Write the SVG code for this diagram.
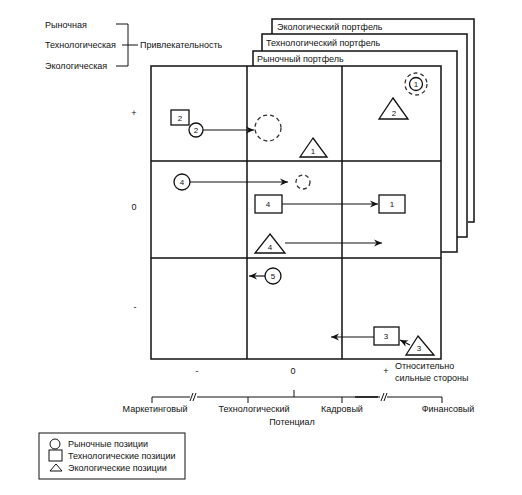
<svg xmlns="http://www.w3.org/2000/svg" width="522" height="495" viewBox="0 0 522 495">
<style>
text{font-family:"Liberation Sans",Arial,sans-serif;font-size:9px;fill:#111}
.c{text-anchor:middle}
.n{font-size:8px}
.ln{stroke:#111;stroke-width:1.5;fill:none}
.th{stroke:#111;stroke-width:1;fill:none}
.sh{stroke:#111;stroke-width:1.3;fill:#fff}
.ds{stroke:#333;stroke-width:1.3;fill:none;stroke-dasharray:4 3}
.ar{stroke:#111;stroke-width:1.2;fill:none}
</style>
<defs>
<marker id="ah" markerWidth="9" markerHeight="8" refX="8" refY="4" orient="auto" markerUnits="userSpaceOnUse">
<path d="M0,0.5 L8,4 L0,7.5 L2.5,4 z" fill="#111"/>
</marker>
</defs>
<rect width="522" height="495" fill="#fff"/>

<g id="attractiveness">
<text x="45" y="28">Рыночная</text>
<text x="45" y="48">Технологическая</text>
<text x="45" y="69">Экологическая</text>
<path class="th" d="M116,24 H128 V66 H116 M122,45 H138"/>
<text x="140" y="48">Привлекательность</text>
</g>

<g id="portfolio-eco">
<path class="ln" d="M272,34 V19 H474 V222 H468"/>
<text x="277" y="30">Экологический портфель</text>
</g>
<g id="portfolio-tech">
<path class="ln" d="M262,51 V34 H467 V237 H457"/>
<text x="266" y="46">Технологический портфель</text>
</g>
<g id="portfolio-market">
<path class="ln" d="M253,66 V51 H457 V252 H441"/>
<text x="257" y="62">Рыночный портфель</text>
</g>

<g id="grid">
<rect x="151" y="66" width="290" height="293" class="ln" fill="none"/>
<path class="ln" d="M247,66 V359 M342,66 V359 M151,161 H441 M151,258 H441"/>
</g>

<g id="y-axis">
<text class="c" x="134" y="116">+</text>
<text class="c" x="134" y="210">0</text>
<text class="c" x="135" y="310">-</text>
</g>

<g id="connectors">
<line class="ar" x1="203" y1="130" x2="254" y2="130" marker-end="url(#ah)"/>
<line class="ar" x1="190" y1="182" x2="288" y2="182" marker-end="url(#ah)"/>
<line class="ar" x1="282" y1="204" x2="378" y2="204" marker-end="url(#ah)"/>
<line class="ar" x1="285" y1="243" x2="382" y2="243" marker-end="url(#ah)"/>
<line class="ar" x1="265" y1="276" x2="249" y2="276" marker-end="url(#ah)"/>
<line class="ar" x1="374" y1="337" x2="331" y2="337" marker-end="url(#ah)"/>
<line class="ar" x1="410" y1="345" x2="400" y2="340" marker-end="url(#ah)"/>
</g>

<g id="tech-2">
<rect class="sh" x="171" y="110" width="18" height="15"/>
<text class="c n" x="180" y="121">2</text>
</g>
<g id="market-2">
<circle class="sh" cx="196" cy="130" r="7"/>
<text class="c n" x="196" y="133">2</text>
</g>
<g id="market-2-target">
<circle class="ds" cx="268" cy="128" r="13"/>
</g>
<g id="eco-1">
<path class="sh" d="M313,138 L327,157 H300 Z"/>
<text class="c n" x="313" y="154">1</text>
</g>
<g id="market-1">
<circle class="ds" cx="416" cy="84" r="11"/>
<circle class="sh" cx="416" cy="84" r="6.5"/>
<text class="c n" x="416" y="87">1</text>
</g>
<g id="eco-2">
<path class="sh" d="M393,98 L408,119 H379 Z"/>
<text class="c n" x="394" y="116">2</text>
</g>

<g id="market-4">
<circle class="sh" cx="182" cy="182" r="8"/>
<text class="c n" x="182" y="185">4</text>
</g>
<g id="market-4-target">
<circle class="ds" cx="303" cy="182" r="7"/>
</g>
<g id="tech-4">
<rect class="sh" x="255" y="195" width="27" height="18"/>
<text class="c n" x="268" y="207">4</text>
</g>
<g id="tech-1">
<rect class="sh" x="379" y="195" width="26" height="18"/>
<text class="c n" x="392" y="207">1</text>
</g>
<g id="eco-4">
<path class="sh" d="M270,234 L285,253 H255 Z"/>
<text class="c n" x="270" y="250">4</text>
</g>

<g id="market-5">
<circle class="sh" cx="273" cy="276" r="8"/>
<text class="c n" x="273" y="279">5</text>
</g>
<g id="tech-3">
<rect class="sh" x="374" y="327" width="25" height="18"/>
<text class="c n" x="386" y="339">3</text>
</g>
<g id="eco-3">
<path class="sh" d="M418,336 L434,355 H406 Z"/>
<text class="c n" x="419" y="351">3</text>
</g>

<g id="x-axis">
<text class="c" x="197" y="374">-</text>
<text class="c" x="293" y="374">0</text>
<text class="c" x="386" y="374">+</text>
<text x="395" y="369">Относительно</text>
<text x="395" y="381">сильные стороны</text>
<path class="th" d="M152,403 V397 H190 M197,397 H380 M387,397 H442 V403 M248,397 V403 M342,397 V403 M294,397 V390"/>
<path class="ln" d="M355,397 H378"/>
<path class="th" d="M190,401 L193,393 M193,401 L196,393 M381,401 L384,393 M384,401 L387,393"/>
<text class="c" x="155" y="412">Маркетинговый</text>
<text class="c" x="254" y="412">Технологический</text>
<text class="c" x="342" y="412">Кадровый</text>
<text class="c" x="448" y="412">Финансовый</text>
<text class="c" x="292" y="425">Потенциал</text>
</g>

<g id="legend">
<rect x="39" y="433" width="146" height="46" class="th"/>
<circle class="th" cx="55" cy="444" r="5"/>
<text x="68" y="447">Рыночные позиции</text>
<rect class="th" x="49" y="450" width="13" height="11"/>
<text x="68" y="459">Технологические позиции</text>
<path class="th" d="M56,464 L62,471 H50 Z"/>
<text x="68" y="471">Экологические позиции</text>
</g>
</svg>
